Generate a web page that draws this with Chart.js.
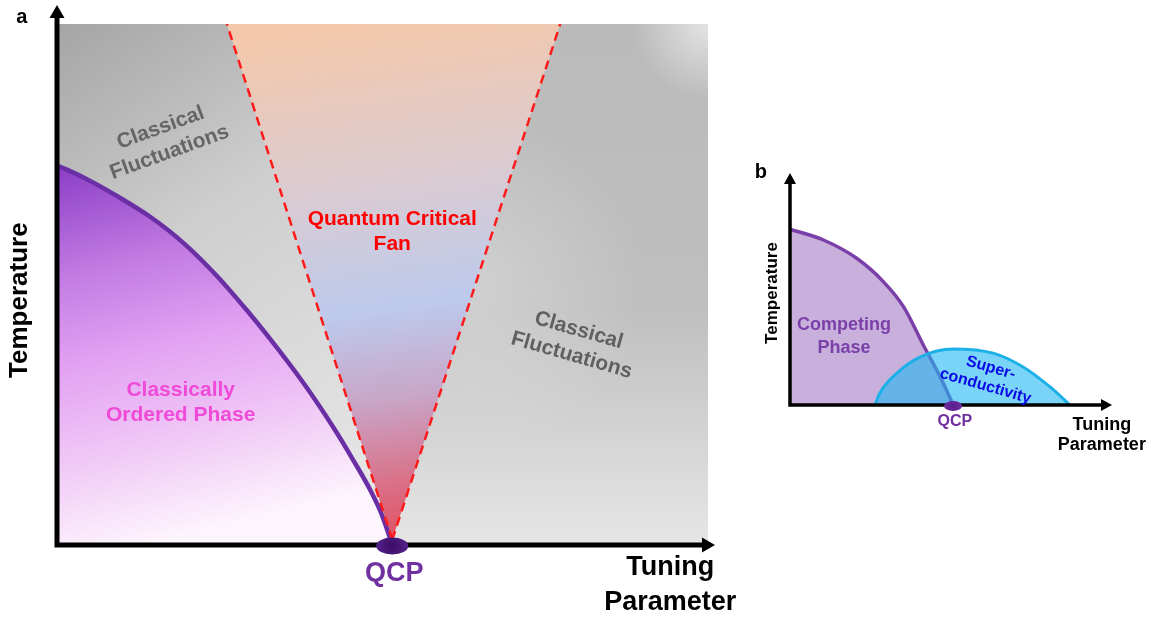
<!DOCTYPE html>
<html>
<head>
<meta charset="utf-8">
<script src="https://cdn.jsdelivr.net/npm/chart.js@4.4.0/dist/chart.umd.min.js"></script>
<style>
  html, body { margin: 0; padding: 0; background: #fff; }
  body { width: 1151px; height: 618px; position: relative; overflow: hidden; }
  canvas { position: absolute; top: 0; }
  #chartA { left: 0; }
  #chartB { left: 740px; }
</style>
</head>
<body>
<canvas id="chartA" width="750" height="618"></canvas>
<canvas id="chartB" width="411" height="618"></canvas>
<script>
// ---- panel a: tuning parameter (0-100) vs temperature (0-100), schematic ----
const orderedX = [0, 4, 9.2, 14.3, 19.4, 24.6, 29.2, 32.7, 37.8, 40.4, 43, 45.5, 48.1, 49.8, 51.5];
const orderedT = [72.9, 70.6, 67, 63, 58, 51.6, 45, 39.6, 31.2, 26.5, 21.5, 16.3, 10.6, 6.1, 0];
const fanX = [51.5, 26.1, 77.3];   // apex, top-left, top-right
const fanT = [1, 100, 100];
const qcpA = 51.5;

// ---- panel b ----
const compX = [0, 10.8, 21.5, 30.1, 36.6, 43.0, 48.4, 52.7];
const compT = [79.9, 75, 66.7, 56.1, 44.7, 27.3, 12.9, 0];
const scX = [27.4, 29, 34.5, 41.9, 52.6, 65.5, 75.2, 83.9, 90.3];
const scT = [0, 5.5, 14.5, 21.8, 25.5, 23.6, 17.3, 8.2, 0];
const qcpB = 52.6;

const FAMILY = "'Liberation Sans', Arial, sans-serif";
const bold = (px) => `bold ${px}px ${FAMILY}`;

const toPts = (xs, ys) => xs.map((v, i) => ({ x: v, y: ys[i] }));

// text labels placed in data coordinates
function textLabels(items) {
  return {
    id: 'textLabels',
    afterDraw(chart) {
      const { ctx, scales: { x, y } } = chart;
      items.forEach(item => {
        ctx.save();
        ctx.translate(x.getPixelForValue(item.x), y.getPixelForValue(item.y));
        ctx.rotate((item.rotate || 0) * Math.PI / 180);
        ctx.font = item.font;
        ctx.fillStyle = item.color;
        ctx.textAlign = 'center';
        ctx.textBaseline = 'middle';
        const n = item.lines.length;
        item.lines.forEach((line, i) => ctx.fillText(line, 0, (i - (n - 1) / 2) * (item.lh || 0)));
        ctx.restore();
      });
    }
  };
}

// black axes with arrow heads + QCP marker
function axisArrows(cfg) {
  return {
    id: 'axisArrows',
    afterDatasetsDraw(chart) {
      const { ctx, chartArea: a, scales: { x } } = chart;
      const w = cfg.width, h = cfg.head;
      const tipY = a.top - cfg.overTop;
      const tipX = a.right + cfg.overRight;
      ctx.save();
      ctx.strokeStyle = '#000';
      ctx.fillStyle = '#000';
      ctx.lineWidth = w;
      ctx.beginPath();
      ctx.moveTo(a.left, a.bottom + w / 2);
      ctx.lineTo(a.left, tipY + h - 1);
      ctx.moveTo(a.left - w / 2, a.bottom);
      ctx.lineTo(tipX - h + 1, a.bottom);
      ctx.stroke();
      ctx.beginPath();
      ctx.moveTo(a.left, tipY);
      ctx.lineTo(a.left - cfg.headW / 2, tipY + h);
      ctx.lineTo(a.left + cfg.headW / 2, tipY + h);
      ctx.closePath();
      ctx.fill();
      ctx.beginPath();
      ctx.moveTo(tipX, a.bottom);
      ctx.lineTo(tipX - h, a.bottom - cfg.headW / 2);
      ctx.lineTo(tipX - h, a.bottom + cfg.headW / 2);
      ctx.closePath();
      ctx.fill();

      // QCP dot
      const cx = x.getPixelForValue(cfg.qcp), cy = a.bottom + 1;
      const g = ctx.createRadialGradient(cx, cy, 0, cx, cy, cfg.rx);
      g.addColorStop(0, cfg.dotIn);
      g.addColorStop(1, cfg.dotOut);
      ctx.fillStyle = g;
      ctx.beginPath();
      ctx.ellipse(cx, cy, cfg.rx, cfg.ry, 0, 0, Math.PI * 2);
      ctx.fill();
      ctx.restore();
    }
  };
}

// gray backdrop of panel a
const phaseBackground = {
  id: 'phaseBackground',
  beforeDatasetsDraw(chart) {
    const { ctx, chartArea: a, scales: { x } } = chart;
    const split = x.getPixelForValue(fanX[0]);
    ctx.save();
    let g = ctx.createLinearGradient(a.left, a.top, a.left + 0.45 * a.width, a.top + 0.85 * a.height);
    g.addColorStop(0, '#a5a5a5');
    g.addColorStop(0.45, '#cecece');
    g.addColorStop(1, '#e4e4e4');
    ctx.fillStyle = g;
    ctx.fillRect(a.left, a.top, split - a.left, a.height);

    ctx.beginPath();
    ctx.rect(split, a.top, a.right - split, a.height);
    ctx.clip();
    g = ctx.createLinearGradient(0, a.top, 0, a.bottom);
    g.addColorStop(0, '#bababa');
    g.addColorStop(0.55, '#bfbfbf');
    g.addColorStop(1, '#e6e6e6');
    ctx.fillStyle = g;
    ctx.fillRect(split, a.top, a.right - split, a.height);
    const hx = a.left + 0.64 * a.width, hy = a.top + 0.5 * a.height;
    g = ctx.createRadialGradient(hx, hy, 0, hx, hy, 170);
    g.addColorStop(0, 'rgba(255,255,255,0.28)');
    g.addColorStop(1, 'rgba(255,255,255,0)');
    ctx.fillStyle = g;
    ctx.fillRect(split, a.top, a.right - split, a.height);
    g = ctx.createRadialGradient(a.right, a.top, 0, a.right, a.top, 75);
    g.addColorStop(0, 'rgba(255,255,255,0.6)');
    g.addColorStop(1, 'rgba(255,255,255,0)');
    ctx.fillStyle = g;
    ctx.fillRect(split, a.top, a.right - split, a.height);
    ctx.restore();
  }
};

function orderedFill(c) {
  const a = c.chart.chartArea;
  if (!a) return '#d9a0ee';
  const g = c.chart.ctx.createLinearGradient(a.left, a.top + 0.27 * a.height, a.left + 0.14 * a.width, a.bottom);
  g.addColorStop(0, '#8a3dc6');
  g.addColorStop(0.28, '#c27ae2');
  g.addColorStop(0.5, '#e2a0f2');
  g.addColorStop(0.75, '#f0c8f6');
  g.addColorStop(1, '#fdf5fd');
  return g;
}

function fanFill(c) {
  const a = c.chart.chartArea;
  if (!a) return '#d0c8e0';
  const g = c.chart.ctx.createLinearGradient(a.left + 0.42 * a.width, a.top, a.left + 0.53 * a.width, a.bottom);
  g.addColorStop(0, '#f4c8aa');
  g.addColorStop(0.3, '#dccbd0');
  g.addColorStop(0.55, '#bdcaec');
  g.addColorStop(0.72, '#c8a6c8');
  g.addColorStop(0.9, '#dc6a80');
  g.addColorStop(1, '#e05060');
  return g;
}

const baseOptions = (pad) => ({
  responsive: false,
  animation: false,
  events: [],
  layout: { padding: pad },
  plugins: { legend: { display: false }, tooltip: { enabled: false } },
  elements: { point: { radius: 0 } },
  scales: {
    x: { type: 'linear', min: 0, max: 100, display: false },
    y: { type: 'linear', min: 0, max: 100, display: false }
  }
});

new Chart(document.getElementById('chartA'), {
  type: 'line',
  data: {
    datasets: [
      { label: 'Left fan edge', data: toPts([fanX[0], fanX[1]], [fanT[0], fanT[1]]),
        borderColor: '#ff1a1a', borderWidth: 2.5, borderDash: [9, 6], fill: false, order: 1 },
      { label: 'Right fan edge', data: toPts([fanX[0], fanX[2]], [fanT[0], fanT[2]]),
        borderColor: '#ff1a1a', borderWidth: 2.5, borderDash: [9, 6], fill: false, order: 1 },
      { label: 'Classically ordered phase', data: toPts(orderedX, orderedT),
        borderColor: '#6a2fa5', borderWidth: 4.5, backgroundColor: orderedFill,
        fill: 'origin', cubicInterpolationMode: 'monotone', order: 2 },
      { label: 'Quantum critical fan', data: toPts(fanX, fanT),
        borderWidth: 0, backgroundColor: fanFill, fill: 'shape', order: 3 }
    ]
  },
  options: baseOptions({ left: 57, right: 42, top: 24, bottom: 73 }),
  plugins: [
    phaseBackground,
    axisArrows({ width: 5, head: 13, headW: 15, overTop: 19, overRight: 7,
                 qcp: qcpA, rx: 16, ry: 8.5, dotIn: '#3a0c66', dotOut: '#55228a' }),
    textLabels([
      { lines: ['a'], x: -5.4, y: 101.3, font: bold(20), color: '#000' },
      { lines: ['Temperature'], x: -5.7, y: 47, rotate: -90, font: bold(26), color: '#000' },
      { lines: ['Tuning', 'Parameter'], x: 94.2, y: -7.7, lh: 35, font: bold(27), color: '#000' },
      { lines: ['QCP'], x: 51.8, y: -5.4, font: bold(27), color: '#7030a0' },
      { lines: ['Classical', 'Fluctuations'], x: 16.6, y: 77.7, rotate: -20, lh: 26, font: bold(21), color: '#656565' },
      { lines: ['Classical', 'Fluctuations'], x: 79.6, y: 38.8, rotate: 16, lh: 26, font: bold(21), color: '#606060' },
      { lines: ['Quantum Critical', 'Fan'], x: 51.5, y: 60.1, lh: 25, font: bold(21), color: '#ff0000' },
      { lines: ['Classically', 'Ordered Phase'], x: 19.0, y: 27.3, lh: 25, font: bold(21), color: '#f04ad8' }
    ])
  ]
});

new Chart(document.getElementById('chartB'), {
  type: 'line',
  data: {
    datasets: [
      { label: 'Superconductivity', data: toPts(scX, scT),
        borderColor: '#1cb0e8', borderWidth: 3, backgroundColor: 'rgba(33,183,242,0.6)',
        fill: 'origin', cubicInterpolationMode: 'monotone', order: 1 },
      { label: 'Competing phase', data: toPts(compX, compT),
        borderColor: '#7b3fa9', borderWidth: 3.5, backgroundColor: '#c9b0dc',
        fill: 'origin', cubicInterpolationMode: 'monotone', order: 2 }
    ]
  },
  options: baseOptions({ left: 50, right: 51, top: 185, bottom: 213 }),
  plugins: [
    axisArrows({ width: 3.5, head: 11, headW: 12, overTop: 12, overRight: 12,
                 qcp: qcpB, rx: 9, ry: 5, dotIn: '#5a1f8c', dotOut: '#6d2c9e' }),
    textLabels([
      { lines: ['b'], x: -9.4, y: 105.9, font: bold(20), color: '#000' },
      { lines: ['Temperature'], x: -5.8, y: 50.9, rotate: -90, font: bold(17), color: '#000' },
      { lines: ['Tuning', 'Parameter'], x: 100.6, y: -13.6, lh: 20, font: bold(18), color: '#000' },
      { lines: ['QCP'], x: 53.2, y: -7.7, font: bold(16), color: '#7030a0' },
      { lines: ['Competing', 'Phase'], x: 17.4, y: 30.9, lh: 23, font: bold(18), color: '#7a3fa8' },
      { lines: ['Super-', 'conductivity'], x: 63.9, y: 12.7, rotate: 16, lh: 19, font: bold(16), color: '#0a0ae6' }
    ])
  ]
});
</script>
</body>
</html>
